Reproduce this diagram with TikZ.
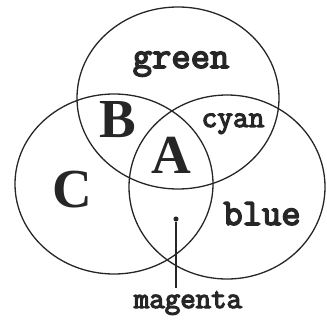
\documentclass[tikz,border=0pt]{standalone}
\usepackage{fontspec}
\newfontfamily\typefont[FakeBold=4]{Latin Modern Mono}
\newfontfamily\capsfont{Liberation Serif}
\newcommand{\ring}[3]{\draw[ink] (#1) ellipse (#2 and #3)}
\tikzset{
  ink/.style={line width=1.3pt, black!85},
  colname/.style={font={\fontsize{#1}{#1}\selectfont\typefont}, text=black!85, anchor=base, inner sep=0pt},
  region/.style={font={\fontsize{55}{55}\selectfont\capsfont\bfseries}, text=black!85, anchor=base, inner sep=0pt},
  tipdot/.style={circle, fill=black!85, inner sep=1.8pt}
}

\begin{document}
\begin{tikzpicture}[x=1pt,y=-1pt]
	\useasboundingbox (0,0) rectangle (327,321);
		\ring{178,98}{101}{91};
		\ring{114,184}{99}{90};
		\ring{227,187}{98}{92};
			\node[colname=37.5] (green) at (181,68) {green};
			\node[colname=30.5] (cyan) at (233,127) {cyan};
			\node[colname=37.5] (blue) at (262,225) {blue};
			\node[colname=30] (magenta) at (188,308) {magenta};
			\node[region] (B) at (118,138) {B};
			\node[region] (A) at (171.5,173) {A};
			\node[region] (C) at (72,207) {C};
				\node[tipdot] (tip) at (176,219) {};
				\draw[ink] (tip) -- ([yshift=3pt]tip |- magenta.north);
\end{tikzpicture}
\end{document}
